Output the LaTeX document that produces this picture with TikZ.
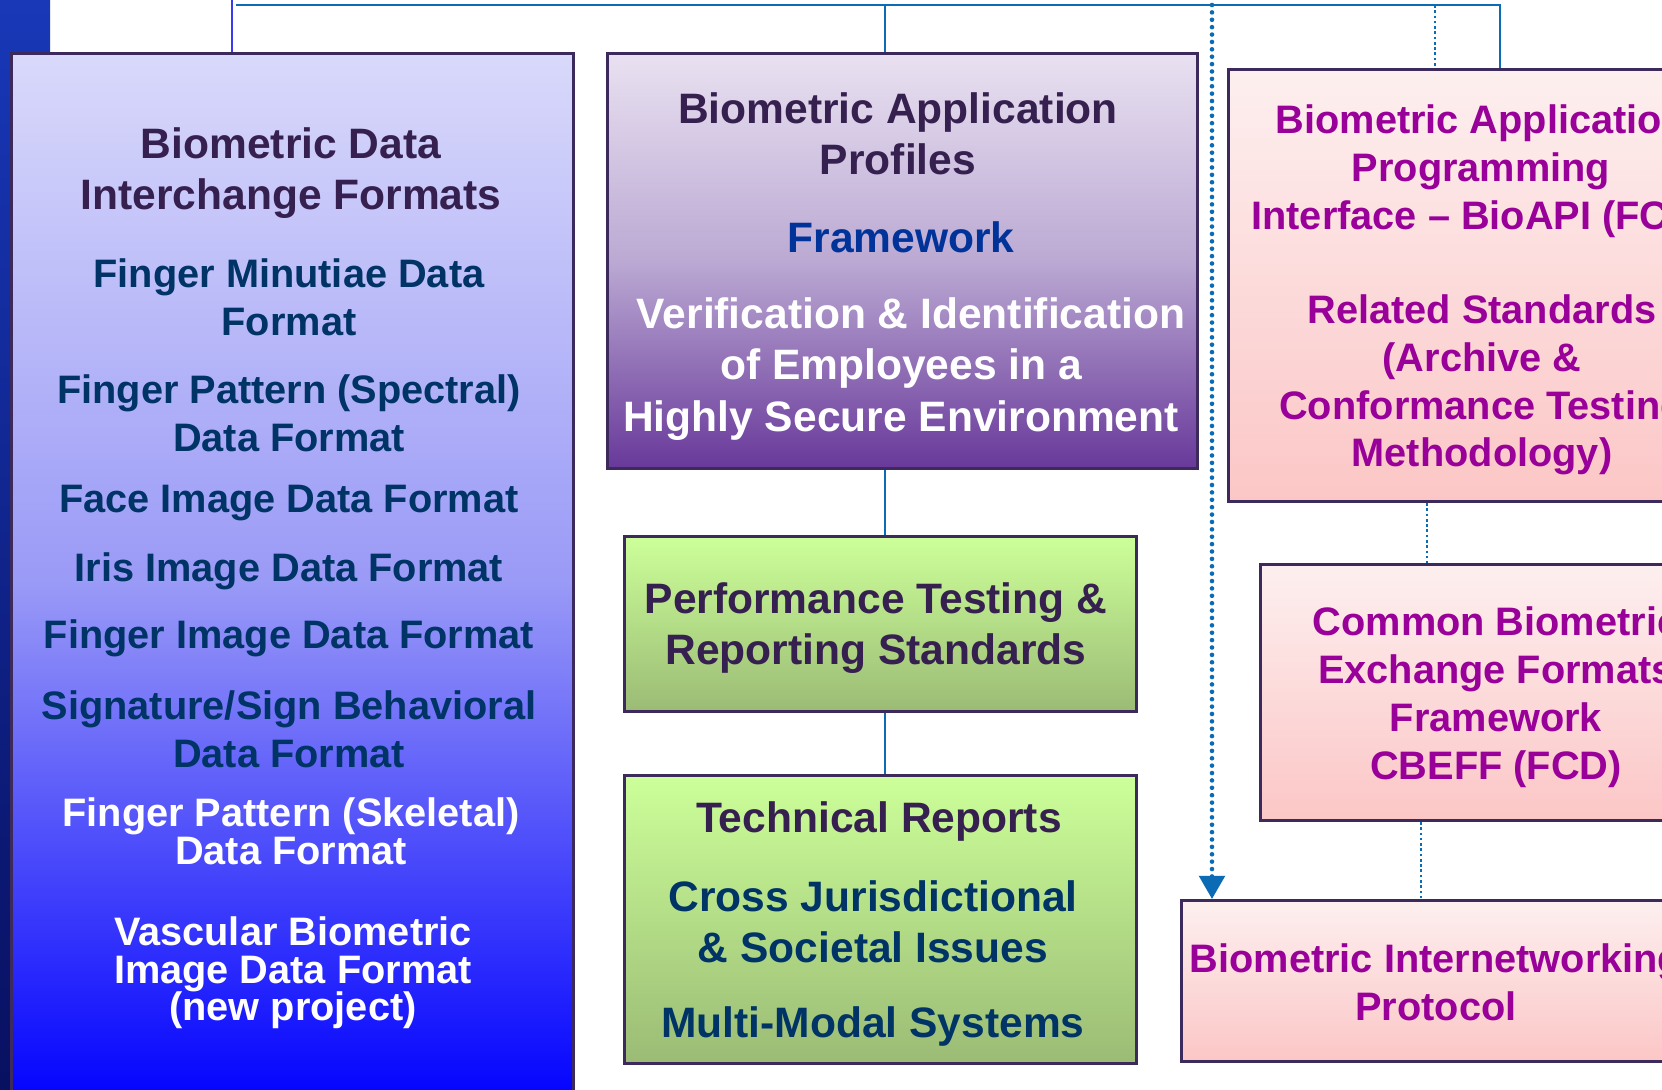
\documentclass[tikz,border=0pt]{standalone}
\usepackage{fontspec}
\setmainfont{Liberation Sans}
\usetikzlibrary{arrows.meta}
\definecolor{boxline}{HTML}{3D2A5C}
\definecolor{linkblue}{HTML}{0B6BB5}
\definecolor{sideblue}{HTML}{3A3AF5}
\definecolor{hdpurple}{HTML}{36204F}
\definecolor{navytext}{HTML}{003366}
\definecolor{fwblue}{HTML}{003399}
\definecolor{pinktext}{HTML}{990099}
\definecolor{fmtTop}{HTML}{D9D9FB}
\definecolor{fmtMid}{HTML}{9A9AF7}
\definecolor{fmtBot}{HTML}{0000FF}
\definecolor{profTop}{HTML}{E9E1F1}
\definecolor{profMid}{HTML}{BBA9D3}
\definecolor{profBot}{HTML}{68389A}
\definecolor{greenTop}{HTML}{CCFF99}
\definecolor{greenBot}{HTML}{9BBB75}
\definecolor{pinkTop}{HTML}{FDEFEF}
\definecolor{pinkBot}{HTML}{FCC6C6}
\definecolor{stripTop}{HTML}{1838B8}
\definecolor{stripBot}{HTML}{081060}
\begin{document}
\begin{tikzpicture}[x=0.01cm, y=-0.01cm,
    boxbase/.style={draw=boxline, line width=0.8pt, inner sep=0pt, anchor=north west},
    fmtbox/.style={boxbase, top color=fmtTop, bottom color=fmtBot, middle color=fmtMid},
    profbox/.style={boxbase, top color=profTop, bottom color=profBot, middle color=profMid},
    greenbox/.style={boxbase, top color=greenTop, bottom color=greenBot},
    pinkbox/.style={boxbase, top color=pinkTop, bottom color=pinkBot},
    txt/.style={align=center, inner sep=0pt, font=\bfseries\fontsize{11.3}{13.6}\selectfont},
    navytxt/.style={txt, text=navytext},
    pinktxt/.style={txt, text=pinktext},
    bigtxt/.style={txt, font=\bfseries\fontsize{12.1}{14.6}\selectfont},
    headtxt/.style={bigtxt, text=hdpurple},
    whitetxt/.style={txt, text=white, font=\bfseries\fontsize{11.3}{10.7}\selectfont},
    link/.style={linkblue, line width=0.8pt},
    dotlink/.style={linkblue, line width=1.3pt, line cap=round, dash pattern=on 0pt off 2.1pt},
    finelink/.style={linkblue, line width=0.8pt, dash pattern=on 0.75pt off 0.75pt}]
  \useasboundingbox (0,0) rectangle (1662,1090);
  \clip (0,0) rectangle (1662,1090);
  \fill[white] (0,0) rectangle (1662,1090);
  \shade[top color=stripTop, bottom color=stripBot] (0,0) rectangle (50,1090);

  % boxes
  \node[fmtbox, minimum width=5.62cm, minimum height=10.55cm] (fmt) at (10,52) {};
  \node[profbox, minimum width=5.9cm, minimum height=4.15cm] (prof) at (606,52) {};
  \node[greenbox, minimum width=5.12cm, minimum height=1.75cm] (perf) at (623,535) {};
  \node[greenbox, minimum width=5.12cm, minimum height=2.88cm] (tech) at (623,774) {};
  \node[pinkbox, minimum width=5.02cm, minimum height=4.32cm] (bioapi) at (1227,68) {};
  \node[pinkbox, minimum width=4.7cm, minimum height=2.56cm] (cbeff) at (1259,563) {};
  \node[pinkbox, minimum width=5.12cm, minimum height=1.61cm] (inet) at (1180,899) {};

  % connectors
  \coordinate (top0) at (232,0);
  \coordinate (jl) at (236,5);
  \coordinate (jm) at (885,5);
  \coordinate (ja) at (1212,5);
  \coordinate (jb) at (1435,5);
  \coordinate (jr) at (1500,5);
  \coordinate (jc) at (1427,0);
  \coordinate (jd) at (1421,0);
  \draw[sideblue, line width=0.5pt] (top0) -- (top0 |- fmt.north);
  \draw[link] (jl) -- (jr) -- (jr |- bioapi.north);
  \draw[link] (jm) -- (jm |- prof.north);
  \draw[link] (jm |- prof.south) -- (jm |- perf.north);
  \draw[link] (jm |- perf.south) -- (jm |- tech.north);
  \draw[dotlink, -{Triangle[width=7.2pt, length=6.6pt]}] (ja) -- (ja |- inet.north);
  \draw[finelink] (jb) -- (jb |- bioapi.north);
  \draw[finelink] (jc |- bioapi.south) -- (jc |- cbeff.north);
  \draw[finelink] (jd |- cbeff.south) -- (jd |- inet.north);

  % data formats
  \node[headtxt] (fmt-hd) at (291,173) {Biometric Data\\Interchange Formats};
  \foreach [count=\i] \y/\t in {297/{Finger Minutiae Data\\Format},
      413/{Finger Pattern (Spectral)\\Data Format}, 503/Face Image Data Format,
      571/Iris Image Data Format, 638/Finger Image Data Format,
      729/{Signature/Sign Behavioral\\Data Format}}
    \node[navytxt] (fmt\i) at (289,\y) {\t};
  \node[whitetxt] (fmt7) at (291,831) {Finger Pattern (Skeletal)\\Data Format};
  \node[whitetxt] (fmt8) at (293,973) {Vascular Biometric\\Image Data Format\\(new project)};

  % profiles
  \node[headtxt] (prof-hd) at (898,134) {Biometric Application\\Profiles};
  \node[bigtxt, text=fwblue] (prof-fw) at (901,237) {Framework};
  \node[bigtxt, text=white] (prof-use) at (901,369) {\hspace*{0.2cm}Verification \& Identification\\of Employees in a\\Highly Secure Environment};

  % testing and reports
  \node[headtxt] (perf-t) at (876,628) {Performance Testing \&\\Reporting Standards};
  \node[headtxt] (tech-hd) at (879,821) {Technical Reports};
  \node[bigtxt, text=navytext] (tech-cj) at (873,922) {Cross Jurisdictional\\\& Societal Issues};
  \node[bigtxt, text=navytext] (tech-mm) at (873,1026) {Multi-Modal Systems};

  % pink column
  \node[pinktxt] (bioapi-t) at (1481,171) {Biometric Application\\Programming\\Interface -- BioAPI (FCD)};
  \node[pinktxt] (bioapi-rs) at (1482,385) {Related Standards\\(Archive \&\\Conformance Testing\\Methodology)};
  \node[pinktxt] (cbeff-t) at (1496,697) {Common Biometric\\Exchange Formats\\Framework\\CBEFF (FCD)};
  \node[pinktxt] (inet-t) at (1436,982) {Biometric Internetworking\\Protocol};
\end{tikzpicture}
\end{document}
